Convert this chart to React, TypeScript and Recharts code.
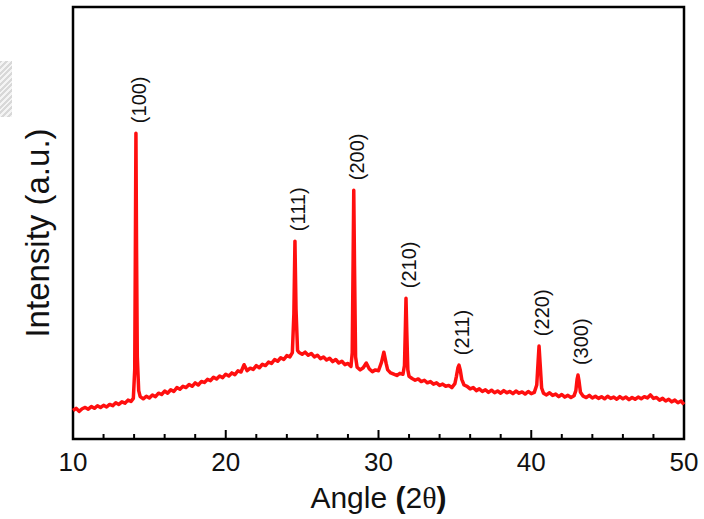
import {
  ComposedChart,
  Line,
  Scatter,
  XAxis,
  YAxis,
  ReferenceArea,
} from "recharts";

// XRD scan: [2θ (deg), intensity (a.u.)]
const scan: [number, number][] = [
  [10.0, 66], [10.2, 71], [10.4, 64], [10.6, 70], [10.8, 73], [11.0, 69], [11.2, 75], [11.4, 71],
  [11.6, 77], [11.8, 73], [12.0, 78], [12.2, 74], [12.4, 80], [12.6, 77], [12.8, 84], [13.0, 80],
  [13.2, 86], [13.4, 83], [13.6, 90], [13.8, 87],
  [13.95, 94], [14.04, 160], [14.08, 420], [14.12, 708], [14.16, 440], [14.21, 190], [14.3, 112],
  [14.4, 98], [14.6, 93], [14.8, 99], [15.0, 95], [15.2, 102], [15.4, 98], [15.6, 106], [15.8, 103],
  [16.0, 111], [16.2, 106], [16.4, 114], [16.6, 110], [16.8, 119], [17.0, 115], [17.2, 122],
  [17.4, 119], [17.6, 126], [17.8, 122], [18.0, 130], [18.2, 125], [18.4, 133], [18.6, 131],
  [18.8, 138], [19.0, 135], [19.2, 143], [19.4, 139], [19.6, 146], [19.8, 142], [20.0, 150],
  [20.2, 146], [20.4, 153], [20.6, 149], [20.8, 158], [21.0, 155], [21.2, 172], [21.4, 158],
  [21.6, 164], [21.8, 161], [22.0, 170], [22.2, 165], [22.4, 173], [22.6, 170], [22.8, 178],
  [23.0, 175], [23.2, 184], [23.4, 180], [23.6, 188], [23.8, 184], [24.0, 193], [24.2, 190],
  [24.36, 200], [24.46, 290], [24.53, 458], [24.6, 300], [24.7, 205],
  [24.8, 200], [25.0, 196], [25.2, 201], [25.4, 194], [25.6, 198], [25.8, 190], [26.0, 194],
  [26.2, 186], [26.4, 190], [26.6, 183], [26.8, 187], [27.0, 179], [27.2, 184], [27.4, 176],
  [27.6, 180], [27.8, 172], [28.0, 175], [28.2, 168],
  [28.28, 200], [28.34, 420], [28.38, 576], [28.43, 400], [28.5, 190],
  [28.6, 166], [28.8, 160], [29.0, 165], [29.2, 176], [29.4, 162], [29.6, 156], [29.8, 160],
  [30.0, 158], [30.2, 178], [30.35, 201], [30.5, 175], [30.6, 160], [30.8, 153], [31.0, 150],
  [31.2, 147], [31.4, 152], [31.6, 150],
  [31.7, 170], [31.76, 260], [31.8, 326], [31.85, 250], [31.92, 160],
  [32.0, 145], [32.2, 140], [32.4, 136], [32.6, 139], [32.8, 133], [33.0, 136], [33.2, 130],
  [33.4, 133], [33.6, 127], [33.8, 130], [34.0, 124], [34.2, 127], [34.4, 122], [34.6, 124],
  [34.8, 119], [35.0, 128],
  [35.1, 145], [35.2, 165], [35.27, 171], [35.35, 160], [35.45, 138],
  [35.6, 125], [35.8, 122], [36.0, 116], [36.2, 119], [36.4, 112], [36.6, 116], [36.8, 110],
  [37.0, 114], [37.2, 108], [37.4, 113], [37.6, 107], [37.8, 111], [38.0, 106], [38.2, 112],
  [38.4, 107], [38.6, 110], [38.8, 105], [39.0, 111], [39.2, 106], [39.4, 109], [39.6, 104],
  [39.8, 110], [40.0, 105], [40.2, 108],
  [40.36, 125], [40.45, 180], [40.51, 215], [40.58, 175], [40.68, 118],
  [40.8, 106], [41.0, 102], [41.2, 107], [41.4, 101], [41.6, 104], [41.8, 98], [42.0, 103],
  [42.2, 97], [42.4, 101], [42.6, 96], [42.8, 100],
  [42.92, 112], [43.0, 138], [43.06, 148], [43.12, 136], [43.22, 108],
  [43.4, 99], [43.6, 96], [43.8, 101], [44.0, 95], [44.2, 99], [44.4, 94], [44.6, 98], [44.8, 93],
  [45.0, 99], [45.2, 94], [45.4, 97], [45.6, 92], [45.8, 98], [46.0, 93], [46.2, 97], [46.4, 91],
  [46.6, 96], [46.8, 92], [47.0, 97], [47.2, 93], [47.4, 98], [47.6, 95], [47.8, 102], [48.0, 94],
  [48.2, 96], [48.4, 90], [48.6, 94], [48.8, 88], [49.0, 92], [49.2, 86], [49.4, 90], [49.6, 84],
  [49.8, 88], [50.0, 80],
];

// indexed reflections and the scan angle of each peak maximum
const hkl = ["(100)", "(111)", "(200)", "(210)", "(211)", "(220)", "(300)"];
const peakAngles = [14.12, 24.53, 28.38, 31.8, 35.27, 40.51, 43.06];

const xTicks = [10, 12, 14, 16, 18, 20, 22, 24, 26, 28, 30, 32, 34, 36, 38, 40, 42, 44, 46, 48, 50];
const yMax = 1000;

const FONT = "Arial, 'Liberation Sans', Helvetica, sans-serif";

const chartData = scan.map(([angle, intensity]) => ({ angle, intensity }));
const peakData = peakAngles.map((angle, i) => ({
  angle,
  intensity: (scan.find((p) => p[0] === angle) as [number, number])[1],
  hkl: hkl[i],
}));

// inward-pointing ticks, labels only on every 10°
const AngleTick = (props: any) => {
  const { x, y, payload } = props;
  const major = payload.value % 10 === 0;
  return (
    <g>
      <line x1={x} x2={x} y1={y} y2={y - (major ? 9 : 5)} stroke="#000" strokeWidth={2} />
      {major && (
        <text x={x} y={y + 23} textAnchor="middle" dominantBaseline="central" fontSize={26} fontFamily={FONT} fill="#111">
          {payload.value}
        </text>
      )}
    </g>
  );
};

const HklLabel = (props: any) => {
  const { cx, cy, payload } = props;
  const x = cx + 3;
  const y = cy - 10;
  return (
    <text x={x} y={y} transform={`rotate(-90 ${x} ${y})`} dominantBaseline="central" fontSize={20} fontFamily={FONT} fill="#111">
      {payload.hkl}
    </text>
  );
};

const AxisTitles = (props: any) => {
  const { viewBox } = props;
  const { x, width } = viewBox;
  const plotTop = 7;
  const plotBottom = viewBox.y;
  const cy = (plotTop + plotBottom) / 2 + 10;
  return (
    <g fontFamily={FONT} fill="#111">
      <text x={x + width / 2} y={508} textAnchor="middle" fontSize={30}>
        Angle <tspan fontWeight="bold">(</tspan>2<tspan fontFamily="'Liberation Serif', 'Times New Roman', serif">θ</tspan><tspan fontWeight="bold">)</tspan>
      </text>
      <text x={x - 36} y={cy} transform={`rotate(-90 ${x - 36} ${cy})`} textAnchor="middle" dominantBaseline="central" fontSize={33}>
        Intensity (a.u.)
      </text>
    </g>
  );
};

export default function App() {
  return (
    <div style={{ position: "absolute", left: 0, top: 0, width: 704, height: 519, background: "#fff" }}>
      <div
        style={{
          position: "absolute",
          left: 0,
          top: 61,
          width: 12,
          height: 56,
          background: "repeating-linear-gradient(135deg, #d8d8d8 0 2px, #f4f4f4 2px 4px)",
        }}
      />
      <ComposedChart width={704} height={519} data={chartData} margin={{ top: 7, right: 20, left: 73, bottom: 50 }}>
        <XAxis
          dataKey="angle"
          type="number"
          domain={[10, 50]}
          ticks={xTicks}
          interval={0}
          height={30}
          axisLine={false}
          tickLine={false}
          tickSize={0}
          tickMargin={0}
          tick={<AngleTick />}
          label={<AxisTitles />}
        />
        <YAxis hide type="number" domain={[0, yMax]} />
        <Line
          type="linear"
          dataKey="intensity"
          stroke="#ff0f0f"
          strokeWidth={3.5}
          strokeLinejoin="round"
          dot={false}
          isAnimationActive={false}
        />
        <Scatter data={peakData} dataKey="intensity" shape={<HklLabel />} isAnimationActive={false} />
        <ReferenceArea x1={10} x2={50} y1={0} y2={yMax} fill="none" stroke="#000" strokeWidth={2.5} />
      </ComposedChart>
    </div>
  );
}
